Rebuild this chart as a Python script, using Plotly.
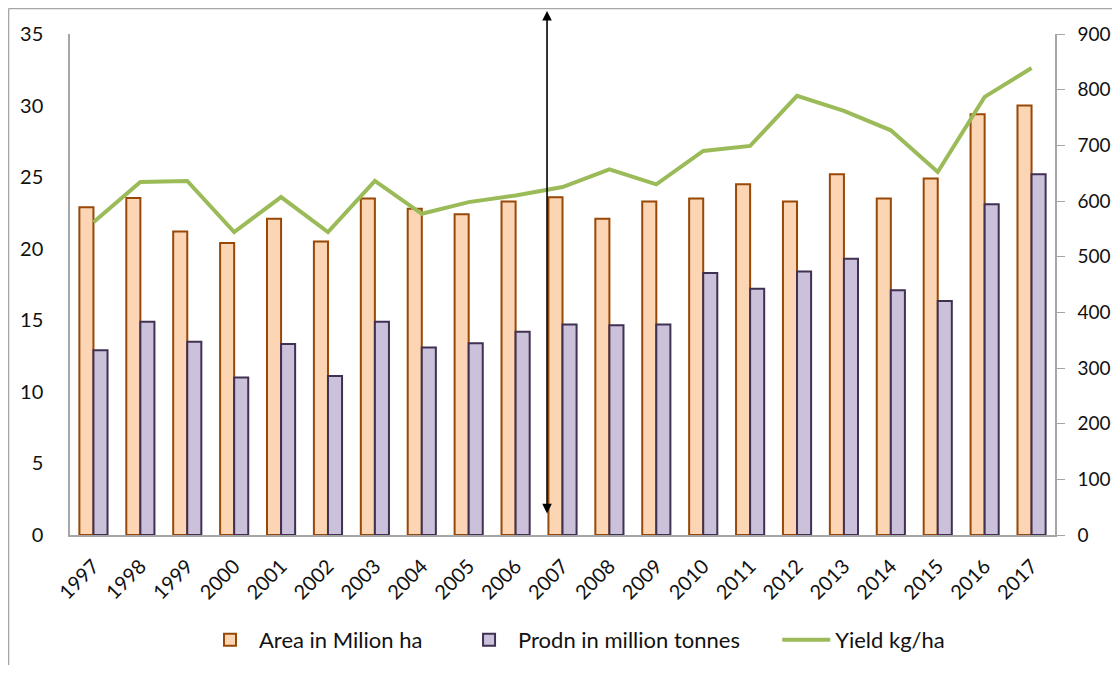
import plotly.graph_objects as go

years = [str(y) for y in range(1997, 2018)]
area = [22.9, 23.55, 21.2, 20.4, 22.1, 20.5, 23.5, 22.8, 22.4, 23.3, 23.6,
        22.1, 23.3, 23.5, 24.5, 23.3, 25.2, 23.5, 24.9, 29.4, 30.0]
prodn = [12.9, 14.9, 13.5, 11.0, 13.35, 11.1, 14.9, 13.1, 13.4, 14.2, 14.7,
         14.65, 14.7, 18.3, 17.2, 18.4, 19.3, 17.1, 16.35, 23.1, 25.2]
yield_kg = [562, 634, 636, 544, 607, 544, 636, 577, 598, 610, 625,
            657, 630, 690, 699, 789, 762, 727, 652, 787, 839]

left_ticks = [0, 5, 10, 15, 20, 25, 30, 35]
right_ticks = [0, 100, 200, 300, 400, 500, 600, 700, 800, 900]

FONT = "Lato, 'Open Sans', sans-serif"

fig = go.Figure()
fig.add_trace(go.Bar(
    x=years, y=area, name="Area in Milion ha", legend="legend",
    marker=dict(color="#FCD5B5", line=dict(color="#984807", width=2)),
))
fig.add_trace(go.Bar(
    x=years, y=prodn, name="Prodn in million tonnes", legend="legend2",
    marker=dict(color="#CCC1DA", line=dict(color="#403152", width=2)),
))
fig.add_trace(go.Scatter(
    x=years, y=yield_kg, name="Yield kg/ha", yaxis="y2", mode="lines",
    legend="legend3",
    line=dict(color="#9BBB59", width=4),
))

leg_common = dict(orientation="h", xanchor="left", y=-0.2096, yanchor="middle",
                  font=dict(size=22), itemwidth=48, bgcolor="rgba(0,0,0,0)")

fig.update_layout(
    width=1104, height=657,
    margin=dict(l=62, r=57, t=26, b=130, autoexpand=False),
    paper_bgcolor="white", plot_bgcolor="white",
    font=dict(family=FONT, size=19, color="#111111"),
    barmode="group", bargap=0.4, bargroupgap=0,
    showlegend=True,
    legend=dict(x=0.133, **leg_common),
    legend2=dict(x=0.396, **leg_common),
    legend3=dict(x=0.718, **leg_common),
    xaxis=dict(
        type="category", tickangle=-45, showgrid=False, ticks="",
        showline=True, linecolor="#A6A6A6", linewidth=1.5,
        tickfont=dict(size=20), ticklabelstandoff=10, automargin=False,
    ),
    yaxis=dict(
        range=[0, 35], tickvals=left_ticks, showgrid=False, ticks="",
        showline=True, linecolor="#A6A6A6", linewidth=1.5, zeroline=False,
        tickfont=dict(size=20), ticklabelstandoff=21, automargin=False,
    ),
    yaxis2=dict(
        range=[0, 900], tickvals=right_ticks, overlaying="y", side="right",
        showgrid=False, ticks="outside", ticklen=8, tickcolor="#A6A6A6",
        showline=True, linecolor="#A6A6A6", linewidth=1.5, zeroline=False,
        tickfont=dict(size=19), ticklabelstandoff=9, automargin=False,
    ),
    shapes=[
        dict(type="line", xref="paper", yref="paper", x0=-0.0624, x1=1.07,
             y0=1.0509, y1=1.0509, line=dict(color="#A6A6A6", width=1.5)),
        dict(type="line", xref="paper", yref="paper", x0=-0.0624, x1=-0.0624,
             y0=1.0509, y1=-0.28, line=dict(color="#A6A6A6", width=1.5)),
    ],
    annotations=[
        dict(xref="paper", yref="paper", x=0.4843, y=1.046,
             ax=0, ay=504,
             showarrow=True, arrowhead=2, arrowside="end+start",
             arrowsize=1.2, arrowwidth=1.6, arrowcolor="black", text=""),
    ],
)

fig.write_html("out.html")
